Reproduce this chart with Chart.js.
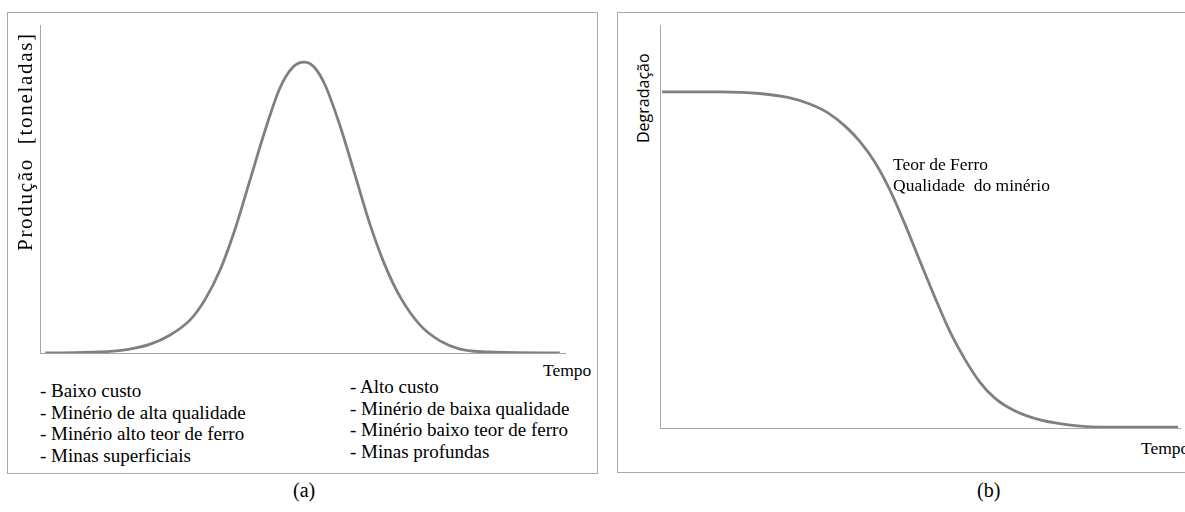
<!DOCTYPE html>
<html>
<head>
<meta charset="utf-8">
<script src="https://cdn.jsdelivr.net/npm/chart.js@4"></script>
<style>
    body { margin: 0; width: 1185px; height: 512px; background: #fff; position: relative; overflow: hidden; font-family: "Liberation Serif", serif; color: #000; }
    .box { position: absolute; border: 1.5px solid #a9a9a9; box-sizing: border-box; }
    .plot { position: absolute; }
    .txt { position: absolute; white-space: nowrap; line-height: 1; }
    .rot { transform-origin: left top; transform: rotate(-90deg); }
    .list div { height: 21.7px; font-size: 19px; }
</style>
</head>
<body>

<!-- panel (a) -->
<div class="box" style="left:7px; top:12px; width:591px; height:462px;"></div>
<canvas id="chartA" class="plot" style="left:36px; top:21px; width:533px; height:336px;"></canvas>
<div class="txt rot" style="left:15px; top:251px; font-size:21px; letter-spacing:1.7px;">Produção&nbsp; [toneladas]</div>
<div class="txt" style="left:543px; top:362px; font-size:17.5px;">Tempo</div>
<div class="txt list" style="left:40px; top:381px;" id="legendLeft"></div>
<div class="txt list" style="left:350px; top:377px;" id="legendRight"></div>
<div class="txt" style="left:293px; top:480px; font-size:20px;">(a)</div>

<!-- panel (b) -->
<div class="box" style="left:617px; top:12px; width:600px; height:461px;"></div>
<canvas id="chartB" class="plot" style="left:656px; top:21px; width:528px; height:411px;"></canvas>
<div class="txt rot" style="left:635px; top:143px; font-size:16px; font-family:'Open Sans', sans-serif;">Degradação</div>
<div class="txt" style="left:893px; top:156px; font-size:17.5px;">Teor de Ferro</div>
<div class="txt" style="left:893px; top:177px; font-size:17.5px;">Qualidade&nbsp; do minério</div>
<div class="txt" style="left:1141px; top:440px; font-size:17.5px;">Tempo</div>
<div class="txt" style="left:977px; top:480px; font-size:20px;">(b)</div>

<script>
// Panel (a): production over time (bell curve)
const timeA = [1, 11.4, 17.1, 21, 24.8, 28.6, 31.4, 34.3, 37.1, 40, 42.9, 45.7, 48.2, 50.3, 52.2, 54.3, 57.1, 60, 62.9, 65.7, 68.6, 72.4, 76.2, 80, 85.7, 99];
const producao = [0, 0.3, 1.2, 2.7, 5.5, 10.1, 16.2, 25.3, 37.5, 52.7, 68, 80.8, 87.2, 88.7, 87.2, 81.7, 69.5, 54.3, 39, 26.8, 17.1, 8.5, 3.7, 1.2, 0.3, 0];

// Panel (b): degradation over time (falling S curve)
const timeB = [0.4, 11.5, 19.2, 25, 28.8, 32.3, 35.6, 38.5, 41.3, 44.2, 47.1, 50, 52.9, 55.8, 58.7, 61.5, 64.4, 68.3, 73.1, 79.8, 86.5, 99.6];
const degradacao = [83.4, 83.4, 83, 81.9, 80.4, 78.2, 74.9, 71, 66, 59.1, 50.6, 41.4, 32.3, 23.8, 16.9, 11.4, 7.4, 4.2, 2, 0.6, 0.2, 0.2];

const legendLeft = ['- Baixo custo', '- Minério de alta qualidade', '- Minério alto teor de ferro', '- Minas superficiais'];
const legendRight = ['- Alto custo', '- Minério de baixa qualidade', '- Minério baixo teor de ferro', '- Minas profundas'];

document.getElementById('legendLeft').innerHTML = legendLeft.map(t => `<div>${t}</div>`).join('');
document.getElementById('legendRight').innerHTML = legendRight.map(t => `<div>${t}</div>`).join('');

function toPoints(xs, ys) {
    return xs.map((x, i) => ({ x: x, y: ys[i] }));
}

function makeChart(id, xs, ys) {
    // axes are only bare lines: no ticks, no grid, no space taken
    const axisStyle = (horizontal) => ({
        type: 'linear',
        min: 0,
        max: 100,
        grid: { display: false },
        ticks: { display: false },
        border: { display: true, color: '#a6a6a6', width: 1 },
        afterFit: (scale) => { if (horizontal) scale.height = 0; else scale.width = 0; }
    });
    return new Chart(document.getElementById(id), {
        type: 'line',
        data: {
            datasets: [{
                data: toPoints(xs, ys),
                borderColor: '#808080',
                borderWidth: 2.8,
                pointRadius: 0,
                cubicInterpolationMode: 'monotone',
                fill: false
            }]
        },
        options: {
            responsive: false,
            animation: false,
            layout: { padding: 4 },
            plugins: { legend: { display: false }, tooltip: { enabled: false } },
            scales: { x: axisStyle(true), y: axisStyle(false) }
        }
    });
}

makeChart('chartA', timeA, producao);
makeChart('chartB', timeB, degradacao);
</script>
</body>
</html>
